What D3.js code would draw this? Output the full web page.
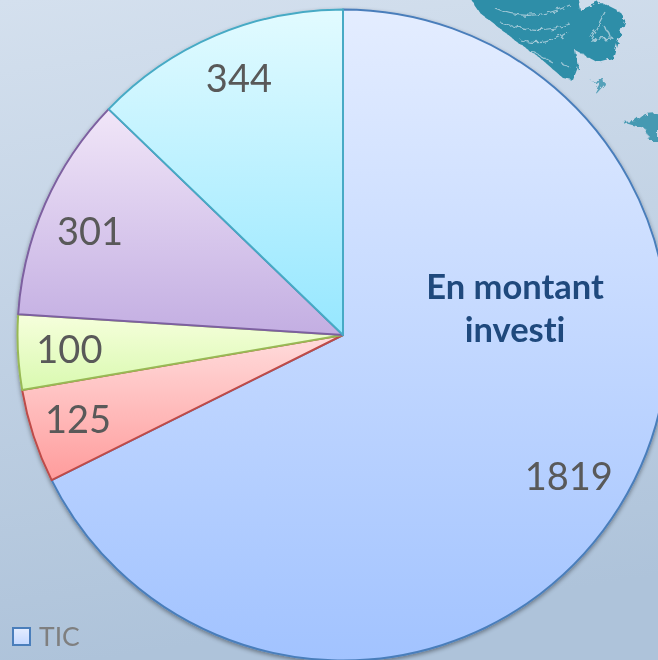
<!DOCTYPE html>
<html><head><meta charset="utf-8">
<script src="https://cdn.jsdelivr.net/npm/d3@7"></script>
<style>html,body{margin:0;padding:0;background:#c5d4e6;overflow:hidden}svg{display:block}text{font-family:Lato,"Open Sans",sans-serif;font-variant-ligatures:none}</style>
</head><body><svg id="c" width="658" height="660"></svg>
<script>
const categories = ["TIC", "B", "C", "D", "E"];
const values = [1819, 125, 100, 301, 344];
const topColors = ["#e4edff", "#ffdcdc", "#f6ffdc", "#f1e6f8", "#e2fbff"];
const bottomColors = ["#a2c3ff", "#ff9c9c", "#d9f9b0", "#c3aee2", "#96e7ff"];
const strokes = ["#4a7ebb", "#be4b48", "#98b954", "#7d60a0", "#46aac5"];
const title = ["En montant", "investi"];
const legendLabel = "TIC";

const W = 658, H = 660, cx = 343, cy = 335, R = 325.5;
const svg = d3.select("#c");
const defs = svg.append("defs");

const bg = defs.append("linearGradient").attr("id","bg").attr("x1",0).attr("y1",0).attr("x2",0.15).attr("y2",1);
bg.append("stop").attr("offset",0).attr("stop-color","#d4e0ee");
bg.append("stop").attr("offset",1).attr("stop-color","#aec3da");

values.forEach((v,i)=>{
  const g = defs.append("linearGradient").attr("id","g"+i).attr("x1",0).attr("y1",0).attr("x2",0).attr("y2",1);
  g.append("stop").attr("offset",0).attr("stop-color",topColors[i]);
  g.append("stop").attr("offset",1).attr("stop-color",bottomColors[i]);
});
const lg = defs.append("linearGradient").attr("id","lg").attr("x1",0).attr("y1",0).attr("x2",0).attr("y2",1);
lg.append("stop").attr("offset",0).attr("stop-color",topColors[0]);
lg.append("stop").attr("offset",1).attr("stop-color","#c4d8ff");

const f = defs.append("filter").attr("id","sh").attr("x","-5%").attr("y","-5%").attr("width","110%").attr("height","110%");
f.append("feDropShadow").attr("dx",0).attr("dy",2).attr("stdDeviation",2).attr("flood-color","#000").attr("flood-opacity",0.4);

const rough = defs.append("filter").attr("id","rough").attr("x","-10%").attr("y","-10%").attr("width","120%").attr("height","120%");
rough.append("feTurbulence").attr("type","fractalNoise").attr("baseFrequency",0.18).attr("numOctaves",2).attr("seed",4).attr("result","n");
rough.append("feDisplacementMap").attr("in","SourceGraphic").attr("in2","n").attr("scale",7);
rough.append("feGaussianBlur").attr("stdDeviation",0.5);

svg.append("rect").attr("width",W).attr("height",H).attr("fill","url(#bg)");

// decorative background map fragments
const deco = svg.append("g").attr("filter","url(#rough)");
deco.append("path").attr("fill","#2e8ea8").attr("d","M467,-6 L480,13 L493,23 L517,42 L540,58 L563,78 L573,80 L578,67 L575,50 L597,62 L613,58 L620,33 L625,18 L620,12 L600,2 L580,10 L577,-6 Z");
deco.append("path").attr("fill","#2e8ea8").attr("opacity",0.75).attr("d","M590,81 L604,79 L605,84 L597,93 L595,92 L600,83 Z");
deco.append("path").attr("fill","#2e8ea8").attr("opacity",0.85).attr("d","M622,122 L636,121 L645,114 L658,113 L658,141 L650,141 L645,128 L632,125 Z");
const streaks = svg.append("g").attr("filter","url(#rough)").attr("fill","none").attr("stroke","#cfe0ea").attr("stroke-width",1.3).attr("opacity",0.7);
["M495,8 Q530,24 570,5","M500,22 Q535,36 570,24","M520,40 Q545,48 568,32","M605,12 L590,40","M590,40 L612,38 L604,26","M530,50 L552,62","M570,68 L560,62"].forEach(d=>streaks.append("path").attr("d",d));

const pie = d3.pie().sort(null).value(d=>d);
const arc = d3.arc().innerRadius(0).outerRadius(R);
const arcs = pie(values);

const shadowGroup = svg.append("g").attr("transform",`translate(${cx},${cy})`).attr("filter","url(#sh)");
shadowGroup.selectAll("path").data(arcs).join("path")
  .attr("d",arc)
  .attr("fill",(d,i)=>`url(#g${i})`)
  .attr("stroke",(d,i)=>strokes[i])
  .attr("stroke-width",2)
  .attr("stroke-linejoin","round");

const labelRadii = [269, 282, 275, 282, 284];
const nudgeX = [-3, 3, 1, 5, 7];
const nudgeY = [-2, -5, -2, 9, 3];
svg.append("g").attr("transform",`translate(${cx},${cy})`)
  .selectAll("text").data(arcs).join("text")
  .attr("x",(d,i)=>{const a=(d.startAngle+d.endAngle)/2;return Math.sin(a)*labelRadii[i]+nudgeX[i];})
  .attr("y",(d,i)=>{const a=(d.startAngle+d.endAngle)/2;return -Math.cos(a)*labelRadii[i]+nudgeY[i];})
  .attr("text-anchor","middle").attr("dominant-baseline","central")
  .attr("font-size",38).attr("fill","#595959")
  .text(d=>d.data);

const t = svg.append("text").attr("text-anchor","middle").attr("font-size",34.5).attr("font-weight",700).attr("fill","#1f497d");
title.forEach((s,i)=>t.append("tspan").attr("x",515).attr("y",299+i*43).text(s));

svg.append("rect").attr("x",13).attr("y",628).attr("width",17).attr("height",17)
  .attr("fill","url(#lg)").attr("stroke",strokes[0]).attr("stroke-width",2);
svg.append("text").attr("x",39).attr("y",646).attr("font-size",26.5).attr("fill","#7f7f7f").text(legendLabel);
</script></body></html>
